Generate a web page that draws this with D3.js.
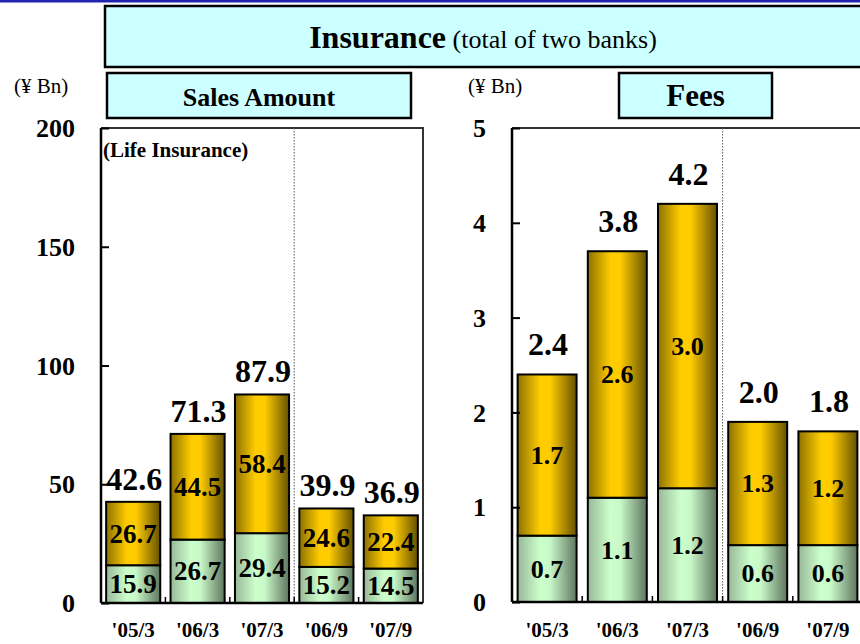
<!DOCTYPE html>
<html>
<head>
<meta charset="utf-8">
<script src="https://cdn.jsdelivr.net/npm/d3@7"></script>
<style>
  body { margin: 0; background: #fff; }
  text { font-family: "Liberation Serif", "Times New Roman", serif; }
</style>
</head>
<body>
<script>
const categories = ["'05/3", "'06/3", "'07/3", "'06/9", "'07/9"];

// Sales amount (life insurance), ¥ Bn
const salesLower = [15.9, 26.7, 29.4, 15.2, 14.5];
const salesUpper = [26.7, 44.5, 58.4, 24.6, 22.4];
const salesTotal = [42.6, 71.3, 87.9, 39.9, 36.9];
const salesTicks = [0, 50, 100, 150, 200];

// Fees, ¥ Bn
const feesLower = [0.7, 1.1, 1.2, 0.6, 0.6];
const feesUpper = [1.7, 2.6, 3.0, 1.3, 1.2];
const feesTotal = [2.4, 3.8, 4.2, 2.0, 1.8];
const feesLowerLabel = ["0.7", "1.1", "1.2", "0.6", "0.6"];
const feesUpperLabel = ["1.7", "2.6", "3.0", "1.3", "1.2"];
const feesTotalLabel = ["2.4", "3.8", "4.2", "2.0", "1.8"];
const feesTicks = [0, 1, 2, 3, 4, 5];

const width = 860, height = 644;

const svg = d3.select("body")
    .append("svg")
    .attr("width", width)
    .attr("height", height);

const defs = svg.append("defs");

function gradient(id, stops) {
    const g = defs.append("linearGradient")
        .attr("id", id)
        .attr("x1", "0%").attr("x2", "100%")
        .attr("y1", "0%").attr("y2", "0%");
    g.selectAll("stop")
        .data(stops)
        .join("stop")
        .attr("offset", d => d[0])
        .attr("stop-color", d => d[1]);
}

gradient("gold", [["0%", "#8c7200"], ["38%", "#ffcc00"], ["55%", "#ffcc00"], ["100%", "#655100"]]);
gradient("green", [["0%", "#98b898"], ["38%", "#ccffcc"], ["55%", "#c8f8c8"], ["100%", "#5f755f"]]);

// top rule
svg.append("rect")
    .attr("x", 0).attr("y", 0)
    .attr("width", width).attr("height", 2.5)
    .attr("fill", "#2222b0");

// header box
svg.append("rect")
    .attr("x", 105).attr("y", 6)
    .attr("width", 780).attr("height", 61)
    .attr("fill", "#ccffff")
    .attr("stroke", "#000")
    .attr("stroke-width", 2.5);

const head = svg.append("text")
    .attr("x", 483).attr("y", 48)
    .attr("text-anchor", "middle");
head.append("tspan")
    .attr("font-weight", "bold")
    .attr("font-size", 32)
    .text("Insurance");
head.append("tspan")
    .attr("font-size", 26)
    .text(" (total of two banks)");

function titleBox(x, w, label, size) {
    svg.append("rect")
        .attr("x", x).attr("y", 73)
        .attr("width", w).attr("height", 45)
        .attr("fill", "#ccffff")
        .attr("stroke", "#000")
        .attr("stroke-width", 2.5);
    svg.append("text")
        .attr("x", x + w / 2).attr("y", 106)
        .attr("text-anchor", "middle")
        .attr("font-weight", "bold")
        .attr("font-size", size)
        .text(label);
}

titleBox(107, 304, "Sales Amount", 26);
titleBox(619, 153, "Fees", 31);

function drawPanel(o) {
    const x = d3.scaleBand()
        .domain(categories)
        .range([o.x0, o.x1])
        .paddingInner(0.16)
        .paddingOuter(0.08);

    const y = d3.scaleLinear()
        .domain([0, o.max])
        .range([o.bottom, o.top]);

    const g = svg.append("g");

    // unit label
    g.append("text")
        .attr("x", o.unitX).attr("y", 93)
        .attr("font-size", 21)
        .text("(¥ Bn)");

    // plot frame (top and right)
    g.append("path")
        .attr("d", `M${o.x0},${o.top}H${o.x1}V${o.bottom}`)
        .attr("fill", "none")
        .attr("stroke", "#333")
        .attr("stroke-width", 2);

    // dotted separator between fiscal-year and half-year bars
    const sep = x(categories[3]) - x.step() * x.paddingInner() / 2;
    g.append("line")
        .attr("x1", sep).attr("x2", sep)
        .attr("y1", o.top).attr("y2", o.bottom)
        .attr("stroke", "#555")
        .attr("stroke-width", 1)
        .attr("stroke-dasharray", "1.5,1.5");

    const stacks = categories.map((c, i) => ({
        cat: c,
        lower: o.lower[i],
        upper: o.upper[i],
        lowerLabel: o.lowerLabel[i],
        upperLabel: o.upperLabel[i],
        totalLabel: o.totalLabel[i]
    }));

    const bars = g.selectAll("g.bar")
        .data(stacks)
        .join("g")
        .attr("class", "bar");

    bars.append("rect")
        .attr("x", d => x(d.cat))
        .attr("width", x.bandwidth())
        .attr("y", d => y(d.lower))
        .attr("height", d => y(0) - y(d.lower))
        .attr("fill", "url(#green)")
        .attr("stroke", "#000")
        .attr("stroke-width", 2);

    bars.append("rect")
        .attr("x", d => x(d.cat))
        .attr("width", x.bandwidth())
        .attr("y", d => y(d.lower + d.upper))
        .attr("height", d => y(d.lower) - y(d.lower + d.upper))
        .attr("fill", "url(#gold)")
        .attr("stroke", "#000")
        .attr("stroke-width", 2);

    bars.append("text")
        .attr("x", d => x(d.cat) + x.bandwidth() / 2)
        .attr("y", d => (y(0) + y(d.lower)) / 2)
        .attr("dy", "0.34em")
        .attr("text-anchor", "middle")
        .attr("font-weight", "bold")
        .attr("font-size", o.innerSize)
        .text(d => d.lowerLabel);

    bars.append("text")
        .attr("x", d => x(d.cat) + x.bandwidth() / 2)
        .attr("y", d => (y(d.lower) + y(d.lower + d.upper)) / 2)
        .attr("dy", "0.34em")
        .attr("text-anchor", "middle")
        .attr("font-weight", "bold")
        .attr("font-size", o.innerSize)
        .text(d => d.upperLabel);

    bars.append("text")
        .attr("x", d => x(d.cat) + x.bandwidth() / 2 + 1)
        .attr("y", d => y(d.lower + d.upper) - o.totalGap)
        .attr("text-anchor", "middle")
        .attr("font-weight", "bold")
        .attr("font-size", 32)
        .text(d => d.totalLabel);

    // y axis
    const yAxis = g.append("g")
        .attr("transform", `translate(${o.x0},0)`)
        .call(d3.axisRight(y).tickValues(o.ticks).tickSize(8).tickFormat(""));
    yAxis.select(".domain").attr("stroke-width", 2.5).attr("d", `M0,${o.top}V${o.bottom}`);
    yAxis.selectAll(".tick line").attr("stroke-width", 2);

    g.selectAll("text.ytick")
        .data(o.ticks)
        .join("text")
        .attr("class", "ytick")
        .attr("x", o.tickX)
        .attr("y", d => y(d))
        .attr("dy", "0.35em")
        .attr("text-anchor", "end")
        .attr("font-weight", "bold")
        .attr("font-size", 26)
        .text(d => d);

    // x axis
    const xAxis = g.append("g")
        .attr("transform", `translate(0,${o.bottom})`)
        .call(d3.axisBottom(x).tickSize(0).tickFormat(""));
    xAxis.select(".domain").attr("stroke-width", 2.5).attr("d", `M${o.x0},0H${o.x1}`);

    const bounds = categories.slice(1).map(c => x(c) - x.step() * x.paddingInner() / 2);
    g.selectAll("line.xtick")
        .data(bounds)
        .join("line")
        .attr("class", "xtick")
        .attr("x1", d => d).attr("x2", d => d)
        .attr("y1", o.bottom).attr("y2", o.bottom - 6)
        .attr("stroke", "#000")
        .attr("stroke-width", 1.5);

    g.selectAll("text.xlab")
        .data(categories)
        .join("text")
        .attr("class", "xlab")
        .attr("x", d => x(d) + x.bandwidth() / 2)
        .attr("y", 637)
        .attr("text-anchor", "middle")
        .attr("font-weight", "bold")
        .attr("font-size", 21)
        .text(d => d);

    return { x, y };
}

drawPanel({
    x0: 101, x1: 423, top: 128, bottom: 603, max: 200,
    lower: salesLower, upper: salesUpper,
    lowerLabel: salesLower.map(v => v.toFixed(1)),
    upperLabel: salesUpper.map(v => v.toFixed(1)),
    totalLabel: salesTotal.map(v => v.toFixed(1)),
    ticks: salesTicks, tickX: 75, unitX: 14,
    innerSize: 27, totalGap: 12
});

drawPanel({
    x0: 512, x1: 863, top: 128, bottom: 602, max: 5,
    lower: feesLower, upper: feesUpper,
    lowerLabel: feesLowerLabel, upperLabel: feesUpperLabel, totalLabel: feesTotalLabel,
    ticks: feesTicks, tickX: 486, unitX: 468,
    innerSize: 26, totalGap: 19
});

// note inside sales panel
svg.append("text")
    .attr("x", 103).attr("y", 157)
    .attr("font-weight", "bold")
    .attr("font-size", 21)
    .text("(Life Insurance)");
</script>
</body>
</html>
